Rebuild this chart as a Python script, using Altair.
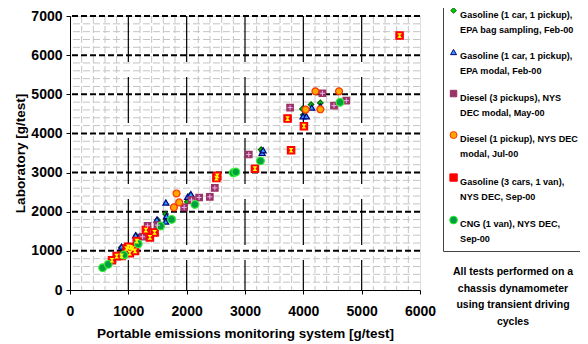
import altair as alt
import pandas as pd

# ---------------- data ----------------
series_names = [
    "Gasoline (1 car, 1 pickup),|EPA bag sampling, Feb-00",
    "Gasoline (1 car, 1 pickup),|EPA modal, Feb-00",
    "Diesel (3 pickups), NYS|DEC modal, May-00",
    "Diesel (1 pickup), NYS DEC|modal, Jul-00",
    "Gasoline (3 cars, 1 van),|NYS DEC, Sep-00",
    "CNG (1 van), NYS DEC,|Sep-00",
]

gas_bag_x = [880, 1135, 1200, 1500, 1650, 1638, 2009, 2060, 3276, 3300, 3984, 4000, 4132, 4292]
gas_bag_y = [1090, 1385, 1350, 1790, 1800, 1939, 2253, 2420, 3588, 3540, 4626, 4470, 4737, 4779]

gas_modal_x = [885, 1125, 1190, 1490, 1640, 1655, 1644, 2015, 2072, 3293, 3311, 3995, 4053, 4144, 4292]
gas_modal_y = [1110, 1400, 1370, 1800, 1750, 1890, 2237, 2381, 2449, 3503, 3571, 4439, 4439, 4660, 4694]

diesel3_x = [1245, 1330, 1500, 1957, 2083, 2214, 2397, 2483, 3065, 3773, 4327, 4526, 4737]
diesel3_y = [1360, 1640, 1658, 2110, 2296, 2364, 2381, 2610, 3461, 4660, 5026, 4711, 4838]

diesel1_x = [1781, 1826, 1872, 4041, 4207, 4292, 4612]
diesel1_y = [2110, 2466, 2237, 4609, 5077, 4617, 5077]

gas_nys_x = [720, 800, 885, 970, 1000, 1040, 1025, 1075, 1115, 1145, 1300, 1370, 1450,
             2510, 2525, 3170, 3730, 3790, 4010, 5650]
gas_nys_y = [760, 865, 870, 1060, 1105, 1090, 940, 1060, 1000, 1250, 1530, 1345, 1470,
             2860, 2915, 3100, 4380, 3570, 4185, 6500]

cng_x = [560, 656, 925, 1170, 1553, 1741, 2140, 2797, 2842, 3265, 4629]
cng_y = [570, 655, 893, 1180, 1633, 1804, 2186, 2993, 3015, 3299, 4796]

x_ticks = [0, 1000, 2000, 3000, 4000, 5000, 6000]
y_ticks = [0, 1000, 2000, 3000, 4000, 5000, 6000, 7000]
minor_step = 200

note_text = "All tests performed on a\nchassis dynamometer\nusing transient driving\ncycles"

# ---------------- tables ----------------
all_x = [gas_bag_x, gas_modal_x, diesel3_x, diesel1_x, gas_nys_x, cng_x]
all_y = [gas_bag_y, gas_modal_y, diesel3_y, diesel1_y, gas_nys_y, cng_y]
rows = []
for name, xs, ys in zip(series_names, all_x, all_y):
    for xv, yv in zip(xs, ys):
        rows.append({"series": name, "x": xv, "y": yv})
df = pd.DataFrame(rows)

minor_x = [v for v in range(minor_step, x_ticks[-1], minor_step) if v not in x_ticks]
minor_y = [v for v in range(minor_step, y_ticks[-1], minor_step) if v not in y_ticks]
grid_minor_x = pd.DataFrame({"x": minor_x})
grid_minor_y = pd.DataFrame({"y": minor_y})
grid_major_x = pd.DataFrame({"x": x_ticks[1:-1]})
grid_major_y = pd.DataFrame({"y": y_ticks[1:]})

FONT = "Liberation Sans"

x_scale = alt.Scale(domain=[0, 6000], nice=False, zero=False)
y_scale = alt.Scale(domain=[0, 7000], nice=False, zero=False)

x_axis = alt.Axis(values=x_ticks, grid=False, format="d", title="Portable emissions monitoring system [g/test]",
                  labelFont=FONT, labelFontSize=14, labelFontWeight="bold", labelColor="black",
                  titleFont=FONT, titleFontSize=13.5, titleFontWeight="bold", titleColor="black",
                  domainColor="black", tickColor="black", tickSize=4, labelPadding=10, titlePadding=8,
                  labelFlush=False)
y_axis = alt.Axis(values=y_ticks, grid=False, format="d", title="Laboratory [g/test]",
                  labelFont=FONT, labelFontSize=14, labelFontWeight="bold", labelColor="black",
                  titleFont=FONT, titleFontSize=13.5, titleFontWeight="bold", titleColor="black",
                  domainColor="black", tickColor="black", tickSize=4, labelPadding=4, titlePadding=3,
                  labelFlush=False)

def X(field):
    return alt.X(field, type="quantitative", scale=x_scale, axis=x_axis)

def Y(field):
    return alt.Y(field, type="quantitative", scale=y_scale, axis=y_axis)

minor_v = alt.Chart(grid_minor_x).mark_rule(color="#c4c4c4", strokeWidth=1, strokeDash=[7, 3]).encode(x=X("x"))
minor_h = alt.Chart(grid_minor_y).mark_rule(color="#c4c4c4", strokeWidth=1, strokeDash=[7, 3]).encode(y=Y("y"))
major_v = alt.Chart(grid_major_x).mark_rule(color="black", strokeWidth=1.2, strokeDash=[46, 15]).encode(x=X("x"))
major_h = alt.Chart(grid_major_y).mark_rule(color="black", strokeWidth=2, strokeDash=[6, 3]).encode(y=Y("y"))

shapes = ["diamond", "triangle-up", "square", "circle", "square", "circle"]
fills = ["#00cc00", "#3399ff", "#993366", "#ffa500", "#ff0000", "#00a040"]
strokes = ["#006600", "#000080", "#993366", "#ff3300", "#ff0000", "#33ee33"]
sizes = [30, 60, 80, 40, 80, 40]

legend = alt.Legend(title=None, orient="none", legendX=373, legendY=-16,
                    strokeColor="#444", fillColor="white", padding=6,
                    labelFont=FONT, labelFontSize=9.1, labelFontWeight="bold", labelColor="black",
                    labelExpr="split(datum.label, '|')", labelLimit=300, labelBaseline="top",
                    labelOffset=2, rowPadding=11.5, symbolStrokeWidth=1)

points = alt.Chart(df).mark_point(strokeWidth=1.2, opacity=1, fillOpacity=1).encode(
    x=X("x"), y=Y("y"),
    shape=alt.Shape("series:N", scale=alt.Scale(domain=series_names, range=shapes), legend=legend),
    fill=alt.Fill("series:N", scale=alt.Scale(domain=series_names, range=fills), legend=legend),
    stroke=alt.Stroke("series:N", scale=alt.Scale(domain=series_names, range=strokes), legend=legend),
    size=alt.Size("series:N", scale=alt.Scale(domain=series_names, range=sizes), legend=legend),
)

plus_glyph = alt.Chart(df).transform_filter(alt.datum.series == series_names[2]).mark_point(
    shape="M-1,0H1M0,-1V1", filled=False, stroke="#f0b0f0", strokeWidth=1, size=25, opacity=1
).encode(x=X("x"), y=Y("y"))

x_glyph = alt.Chart(df).transform_filter(alt.datum.series == series_names[4]).mark_point(
    shape="M-1,-1L1,-1L0.25,0L1,1L-1,1L-0.25,0Z", filled=True, fill="#ffff00", size=22, opacity=1
).encode(x=X("x"), y=Y("y"))

note = alt.Chart(pd.DataFrame({"t": [note_text]})).mark_text(
    font=FONT, fontSize=10.5, fontWeight="bold", color="black", align="center", baseline="top",
    lineBreak="\n", lineHeight=16.7
).encode(x=alt.value(443), y=alt.value(251), text="t:N")

chart = alt.layer(minor_v, minor_h, major_v, major_h, points, plus_glyph, x_glyph, note).properties(
    width=350, height=274,
    title=alt.TitleParams("measurements (n=114)", font=FONT, fontSize=14, fontWeight="bold",
                          color="black", anchor="middle", dx=42, offset=-8, baseline="alphabetic"),
    autosize=alt.AutoSizeParams(type="none"),
    padding={"left": 62, "top": 8, "right": 160, "bottom": 54},
).configure_view(stroke="#999999", strokeWidth=1.5).configure(
    background="white", style={"guide-label": {"lineHeight": 15}}
)

chart.save("out.html", embed_options={"renderer": "svg", "actions": False})
